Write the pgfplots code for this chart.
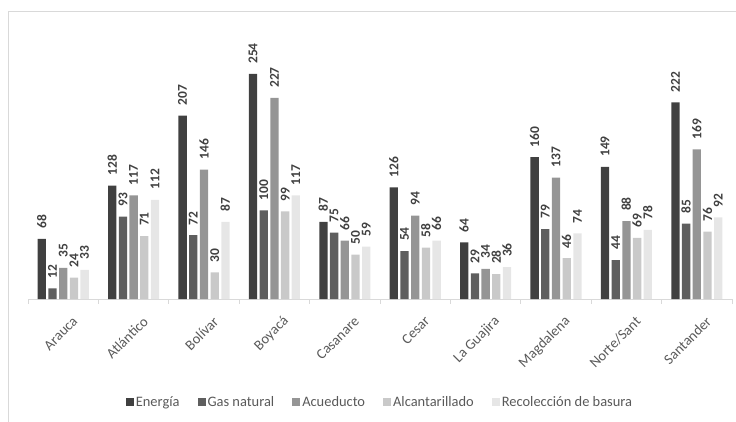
\documentclass[border=0pt]{standalone}
\usepackage{pgfplots}
\pgfplotsset{compat=1.18}
\usepackage{pgfplotstable}
\usepackage{fontspec}
\setmainfont{Carlito}

\definecolor{cEn}{HTML}{404040}
\definecolor{cGas}{HTML}{5E5E5E}
\definecolor{cAcu}{HTML}{959595}
\definecolor{cAlc}{HTML}{C9C9C9}
\definecolor{cRec}{HTML}{E6E6E6}
\definecolor{txtgray}{HTML}{595959}
\definecolor{lblgray}{HTML}{404040}
\definecolor{linegray}{HTML}{D9D9D9}

% departamento: energia, gas natural, acueducto, alcantarillado, basura
\pgfplotstableread{
x en  gas acu alc rec
0 68  12  35  24  33
1 128 93  117 71  112
2 207 72  146 30  87
3 254 100 227 99  117
4 87  75  66  50  59
5 126 54  94  58  66
6 64  29  34  28  36
7 160 79  137 46  74
8 149 44  88  69  78
9 222 85  169 76  92
}\datos

\begin{document}
\begin{tikzpicture}
\draw[linegray, line width=1bp] (8bp,-20bp) -- (8bp,410bp) -- (760bp,410bp);
\begin{axis}[
    at={(28bp,123bp)}, anchor=south west,
    scale only axis,
    width=704bp, height=265.8bp,
    ybar=2.4bp,
    bar width=8.3bp,
    xmin=-0.5, xmax=9.5,
    ymin=0, ymax=300,
    enlargelimits=false,
    clip=false,
    axis x line=bottom,
    axis y line=none,
    x axis line style={-, draw=linegray, line width=1bp},
    xtick=data,
    xticklabels={Arauca,Atlántico,Bolívar,Boyacá,Casanare,Cesar,La Guajira,Magdalena,Norte/Sant,Santander},
    major tick length=0pt,
    xticklabel style={font=\fontsize{14.5}{15}\selectfont, text=txtgray,
        xshift=12bp, yshift=-20bp, rotate=45, anchor=east, inner sep=0pt},
    extra x ticks={-0.5,0.5,...,9.5},
    extra x tick labels={},
    extra x tick style={major tick length=5bp, tick align=outside,
        tick style={draw=linegray, line width=1bp}},
    ytick=\empty,
    /pgf/number format/assume math mode=true,
    nodes near coords,
    every node near coord/.append style={font=\bfseries\fontsize{13.5}{13.5}\selectfont,
        text=lblgray, rotate=90, anchor=west, inner ysep=0pt, inner xsep=10bp},
    legend columns=-1,
    legend style={at={(0.5,-0.3875)}, anchor=center, draw=none, fill=none,
        font=\fontsize{14.5}{15}\selectfont, text=txtgray,
        /tikz/every even column/.append style={column sep=16bp}},
    legend image code/.code={\fill[#1] (0bp,-4bp) rectangle (8bp,4bp);},
]
\addplot[fill=cEn, draw=none] table[x=x, y=en] {\datos};
\addplot[fill=cGas, draw=none] table[x=x, y=gas] {\datos};
\addplot[fill=cAcu, draw=none] table[x=x, y=acu] {\datos};
\addplot[fill=cAlc, draw=none] table[x=x, y=alc] {\datos};
\addplot[fill=cRec, draw=none] table[x=x, y=rec] {\datos};
\legend{Energía, Gas natural, Acueducto, Alcantarillado, Recolección de basura}
\end{axis}
\pgfresetboundingbox
\path[use as bounding box] (0,0) rectangle (736bp,422bp);
\end{tikzpicture}
\end{document}
